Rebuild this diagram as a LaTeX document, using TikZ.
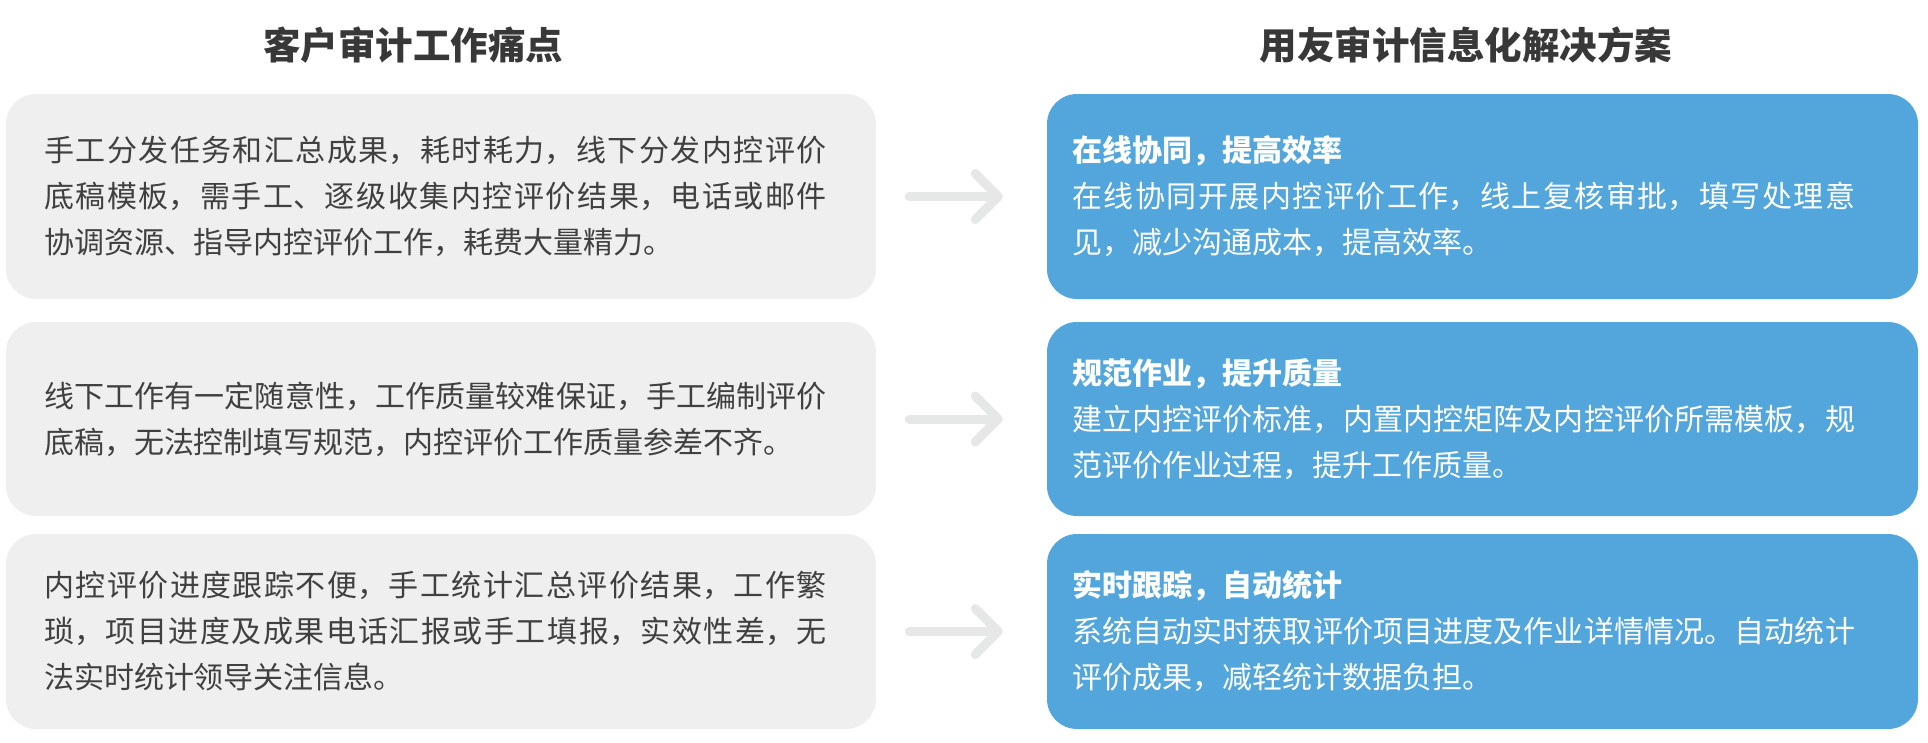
\documentclass[tikz,border=0pt]{standalone}
\usepackage{fontspec}
\setmainfont{Noto Sans CJK SC}
\XeTeXlinebreaklocale "zh"
\XeTeXlinebreakskip=0pt plus 4pt
\usetikzlibrary{arrows.meta}
\definecolor{paingray}{HTML}{EFEFEF}
\definecolor{solblue}{HTML}{52A6DC}
\definecolor{textgray}{HTML}{404040}
\definecolor{headgray}{HTML}{383838}
\definecolor{arrowgray}{HTML}{E6E7E7}
\begin{document}
\begin{tikzpicture}[x=1pt, y=-1pt,
  painbox/.style={fill=paingray, rounded corners=30pt, inner xsep=38pt, text width=794pt, align=justify, execute at begin node={\rightskip=11pt\relax}, text=textgray, font=\fontsize{30}{46}\selectfont},
  solbox/.style={fill=solblue, rounded corners=30pt, inner xsep=25pt, text width=821pt, align=justify, execute at begin node={\rightskip=38pt\relax}, text=white, font=\fontsize{30}{46}\selectfont},
  heading/.style={text=headgray, font=\fontsize{37.5}{40}\selectfont\bfseries},
  flowarrow/.style={draw=arrowgray, line width=9pt, line cap=round, -{Straight Barb[length=23pt, width=46pt, round]}}]
\useasboundingbox (0,0) rectangle (1928,742);
\node[heading] (headL) at (413,45) {客户审计工作痛点};
\node[heading] (headR) at (1466,45) {用友审计信息化解决方案};
\node[painbox, minimum height=205pt] (pain1) at (441,196.5) {手工分发任务和汇总成果，耗时耗力，线下分发内控评价\linebreak 底稿模板，需手工、逐级收集内控评价结果，电话或邮件\linebreak 协调资源、指导内控评价工作，耗费大量精力。};
\node[painbox, minimum height=194pt] (pain2) at (441,419) {线下工作有一定随意性，工作质量较难保证，手工编制评价\linebreak 底稿，无法控制填写规范，内控评价工作质量参差不齐。};
\node[painbox, minimum height=195pt] (pain3) at (441,631.5) {内控评价进度跟踪不便，手工统计汇总评价结果，工作繁\linebreak 琐，项目进度及成果电话汇报或手工填报，实效性差，无\linebreak 法实时统计领导关注信息。};
\node[solbox, minimum height=205pt] (sol1) at (1482.5,196.5) {{\bfseries 在线协同，提高效率}\\在线协同开展内控评价工作，线上复核审批，填写处理意\linebreak 见，减少沟通成本，提高效率。};
\node[solbox, minimum height=194pt] (sol2) at (1482.5,419) {{\bfseries 规范作业，提升质量}\\建立内控评价标准，内置内控矩阵及内控评价所需模板，规\linebreak 范评价作业过程，提升工作质量。};
\node[solbox, minimum height=195pt] (sol3) at (1482.5,631.5) {{\bfseries 实时跟踪，自动统计}\\系统自动实时获取评价项目进度及作业详情情况。自动统计\linebreak 评价成果，减轻统计数据负担。};
\draw[flowarrow] ([xshift=33pt]pain1.east) -- ([xshift=-44pt]sol1.west);
\draw[flowarrow] ([xshift=33pt]pain2.east) -- ([xshift=-44pt]sol2.west);
\draw[flowarrow] ([xshift=33pt]pain3.east) -- ([xshift=-44pt]sol3.west);
\end{tikzpicture}
\end{document}
